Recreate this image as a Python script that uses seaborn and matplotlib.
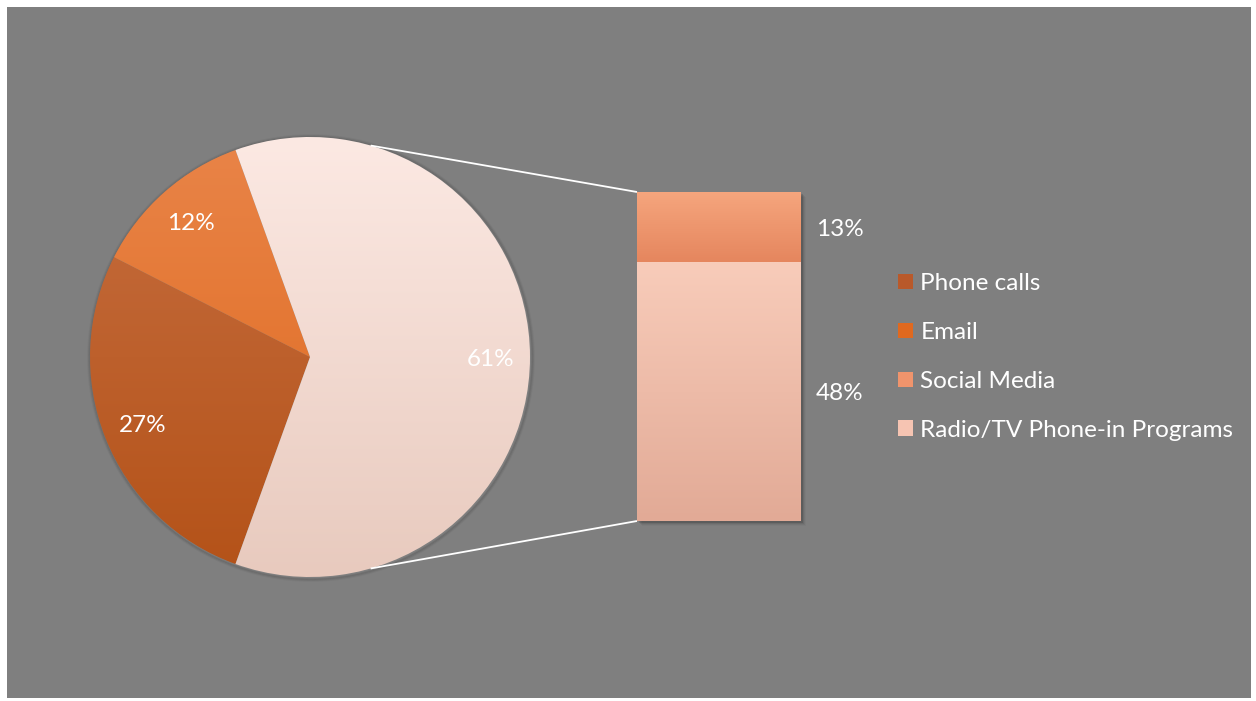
import numpy as np
import matplotlib
matplotlib.use("Agg")
import matplotlib.pyplot as plt
from matplotlib.patches import Rectangle, Patch
from matplotlib.colors import LinearSegmentedColormap
import seaborn as sns

# ---- data -------------------------------------------------------------
pie_labels = ["Phone calls", "Email", "Other"]
pie_values = [27, 12, 61]
bar_labels = ["Radio/TV Phone-in Programs", "Social Media"]
bar_values = [48, 13]
legend_labels = ["Phone calls", "Email", "Social Media", "Radio/TV Phone-in Programs"]

# gradient fills (top colour, bottom colour)
pie_grad = [((198, 110, 64), (180, 82, 24)),
            ((233, 132, 72), (222, 104, 28)),
            ((252, 233, 227), (232, 202, 190))]
bar_grad = [((248, 204, 186), (226, 170, 150)),
            ((246, 166, 126), (229, 134, 94))]
legend_colors = ["#B9592A", "#E0691F", "#F0946C", "#F6C4B2"]

FS = 17.5

sns.set_theme(style="white")
plt.rcParams["font.family"] = ["Lato", "DejaVu Sans"]

W, H = 1256, 701
fig = plt.figure(figsize=(W / 100, H / 100), dpi=100, facecolor="white")
ax = fig.add_axes([0, 0, 1, 1])

# grey chart area
ax.add_patch(Rectangle((7, 3), 1244, 691, facecolor="#7F7F7F", edgecolor="none", zorder=0))


def grad_cmap(top, bottom):
    return LinearSegmentedColormap.from_list(
        "g", [np.array(bottom) / 255, np.array(top) / 255])


def fill_gradient(patch, x0, x1, y0, y1, top, bottom, z):
    img = np.linspace(0, 1, 256).reshape(-1, 1)
    im = ax.imshow(img, cmap=grad_cmap(top, bottom), origin="lower",
                   extent=(x0, x1, y0, y1), aspect="auto", zorder=z,
                   interpolation="bilinear")
    im.set_clip_path(patch)


# ---- pie --------------------------------------------------------------
cx, cy, r = 310, 344, 220
other_share = pie_values[-1] / sum(pie_values) * 360.0
start = 360 - other_share / 2  # 'Other' slice centred on the right side

# soft outline under the pie
for k, a in enumerate([0.10, 0.07, 0.04]):
    ax.add_patch(plt.Circle((cx + 1, cy - 1), r + 1 + k, facecolor="none",
                            edgecolor="black", lw=1.2, alpha=a, zorder=1))

wedges, _, autotexts = ax.pie(
    pie_values, startangle=start, counterclock=False, center=(cx, cy),
    radius=r, autopct="%1.0f%%", pctdistance=0.82, frame=True,
    wedgeprops=dict(linewidth=0, edgecolor="none"),
    textprops=dict(color="white", fontsize=FS))

for w, (top, bot) in zip(wedges, pie_grad):
    w.set_facecolor("none")
    w.set_zorder(3)
    fill_gradient(w, cx - r, cx + r, cy - r, cy + r, top, bot, 2)
for t in autotexts:
    t.set_zorder(5)
    t.set_va("center_baseline")

# ---- stacked bar for the 'Other' slice --------------------------------
bar_x, bar_w = 719, 164
bar_bottom, bar_total_h = 180, 329
scale = bar_total_h / sum(bar_values)

# drop shadow
for k, a in enumerate([0.12, 0.08, 0.05, 0.03]):
    ax.add_patch(Rectangle((bar_x - bar_w / 2 + 2 + k, bar_bottom - 2 - k),
                           bar_w, bar_total_h, facecolor="black",
                           edgecolor="none", alpha=a, zorder=1))

bottom = bar_bottom
for val, (top, bot), lab in zip(bar_values, bar_grad, bar_labels):
    cont = ax.bar(bar_x, val * scale, width=bar_w, bottom=bottom,
                  color="none", edgecolor="none", zorder=3)
    rect = cont[0]
    fill_gradient(rect, bar_x - bar_w / 2, bar_x + bar_w / 2,
                  bottom, bottom + val * scale, top, bot, 2)
    ax.text(bar_x + bar_w / 2 + 39, bottom + val * scale / 2, f"{val}%",
            color="white", fontsize=FS, ha="center", va="center_baseline", zorder=5)
    bottom += val * scale

# connector lines between the pie and the bar
ang = np.deg2rad(74)
bx0 = bar_x - bar_w / 2
ax.plot([cx + r * np.cos(ang), bx0], [cy + r * np.sin(ang), bar_bottom + bar_total_h],
        color="white", lw=1.3, zorder=4, solid_capstyle="butt")
ax.plot([cx + r * np.cos(ang), bx0], [cy - r * np.sin(ang), bar_bottom],
        color="white", lw=1.3, zorder=4, solid_capstyle="butt")

# ---- legend -----------------------------------------------------------
handles = [Patch(facecolor=c, edgecolor="none") for c in legend_colors]
ax.legend(handles, legend_labels, loc="center left",
          bbox_to_anchor=(898, 344), bbox_transform=ax.transData,
          frameon=False, fontsize=FS, labelcolor="white",
          handlelength=0.62, handleheight=0.62, handletextpad=0.3,
          labelspacing=1.15, borderpad=0, borderaxespad=0)

ax.set_xlim(0, W)
ax.set_ylim(0, H)
ax.set_aspect("equal")
ax.axis("off")

fig.savefig("out.png", dpi=100, facecolor="white")
